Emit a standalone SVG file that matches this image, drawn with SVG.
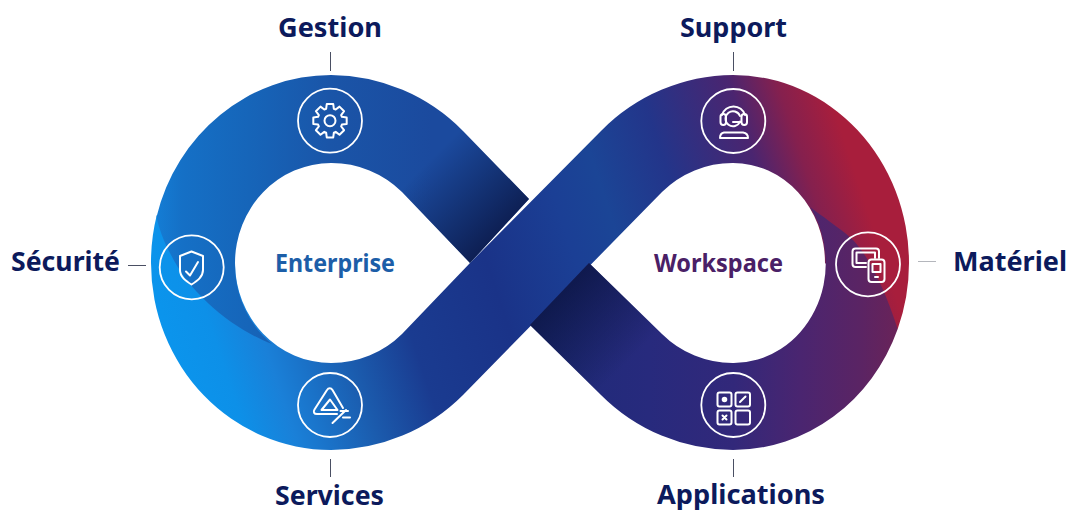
<svg xmlns="http://www.w3.org/2000/svg" width="1075" height="511" viewBox="0 0 1075 511">
<style>
.lbl{font-family:"Noto Sans","Liberation Sans",sans-serif;font-weight:700;font-size:27px;fill:#0c1a5c;text-anchor:middle}
.hub{font-family:"Noto Sans","Liberation Sans",sans-serif;font-weight:700;font-size:25px;text-anchor:middle}
.ring{fill:none;stroke:#fff;stroke-width:1.8}
.ico{fill:none;stroke:#fff;stroke-width:2;stroke-linejoin:round;stroke-linecap:round}
.lead{stroke:#4a4f63;stroke-width:1;fill:none}
</style>
<defs>
<linearGradient id="main" gradientUnits="userSpaceOnUse" x1="150" y1="340" x2="880" y2="100">
<stop offset="0" stop-color="#0a96ee"/><stop offset=".08" stop-color="#0d90e8"/><stop offset=".14" stop-color="#1a80d8"/><stop offset=".18" stop-color="#1a72c8"/><stop offset=".24" stop-color="#1b5cae"/><stop offset=".325" stop-color="#1a3b90"/><stop offset=".448" stop-color="#1a3388"/><stop offset=".558" stop-color="#1b3f95"/><stop offset=".62" stop-color="#1b4596"/><stop offset=".708" stop-color="#23358a"/><stop offset=".82" stop-color="#4a2570"/><stop offset=".88" stop-color="#85204e"/><stop offset=".94" stop-color="#a81e3c"/><stop offset="1" stop-color="#a81e3c"/>
</linearGradient>
<linearGradient id="upL" gradientUnits="userSpaceOnUse" x1="150" y1="0" x2="470" y2="0">
<stop offset="0" stop-color="#1480d8"/><stop offset=".1" stop-color="#1570c6"/><stop offset=".31" stop-color="#1665b9"/><stop offset=".56" stop-color="#1a55a8"/><stop offset=".88" stop-color="#1b4a9e"/><stop offset="1" stop-color="#1b4a9e"/>
</linearGradient>
<linearGradient id="shL" gradientUnits="userSpaceOnUse" x1="295" y1="295" x2="365" y2="365">
<stop offset="0" stop-color="#0a1440" stop-opacity="0"/><stop offset="1" stop-color="#0a1440" stop-opacity=".78"/>
</linearGradient>
<linearGradient id="loR" gradientUnits="userSpaceOnUse" x1="530" y1="0" x2="900" y2="0">
<stop offset="0" stop-color="#1d2b78"/><stop offset=".32" stop-color="#272a7d"/><stop offset=".55" stop-color="#32287a"/><stop offset=".73" stop-color="#4a2570"/><stop offset=".89" stop-color="#5a2464"/><stop offset="1" stop-color="#6a2358"/>
</linearGradient>
<linearGradient id="shR" gradientUnits="userSpaceOnUse" x1="428" y1="428" x2="495" y2="495">
<stop offset="0" stop-color="#0a1440" stop-opacity=".75"/><stop offset="1" stop-color="#0a1440" stop-opacity="0"/>
</linearGradient>
</defs>
<rect width="1075" height="511" fill="#fff"/>
<g id="ribbon">
<path fill="url(#main)" d="M156.800,215 A180,188 0 0 0 151,263 A180,187 0 0 0 331,450 A187,187 0 0 0 463,395 L662,192 A100,100 0 0 1 733,163 A92,100 0 0 1 825,263 L897.700,329 A176,187 0 0 0 909,263 A176,188 0 0 0 733,75 A187,187 0 0 0 601,131 L470,263 L402,334 A100,100 0 0 1 331,363 A96,100 0 0 1 235,263 Z"/>
<path id="upper-left" fill="url(#upL)" d="M156.500,217 A180,188 0 0 1 331,75 A187,187 0 0 1 463,131 L529,199 L470,263 L402,192 A100,100 0 0 0 331,163 A96,100 0 0 0 235,263 A96,100 0 0 0 272,344 C235,330 190,295 170,253 C163,240 159,228 156.500,217 Z"/>
<path fill="url(#shL)" d="M463,131 L529,199 L470,263 L402,192 L390,180 L440,110 Z"/>
<path id="lower-right" fill="url(#loR)" d="M530,325 L589,263 L662,334 A100,100 0 0 0 733,363 A92,100 0 0 0 810,207 C830,222 845,232 853,240 C870,258 885,290 897.700,329 A176,187 0 0 1 733,450 A187,187 0 0 1 601,395 Z"/>
<path fill="url(#shR)" d="M530,325 L589,263 L662,334 L680,352 L640,420 L601,395 Z"/>
</g>
<g id="connectors">
<path class="lead" d="M330.500,52V71M733.500,52V71M128,265.500H146M330.500,459V477M733.500,459V477"/>
<path class="lead" style="stroke:#b4b6bc" d="M918,261.500H936"/>
</g>
<g id="node-gestion">
<text class="lbl" x="330" y="37" textLength="104" lengthAdjust="spacingAndGlyphs">Gestion</text>
<circle class="ring" cx="330" cy="120.700" r="32"/>
<g class="ico" transform="translate(330 120.700)"><path d="M-3.860,-11.890L-3.240,-16.690L3.240,-16.690L3.860,-11.890L5.680,-11.140L9.510,-14.090L14.090,-9.510L11.140,-5.680L11.890,-3.860L16.690,-3.240L16.690,3.240L11.890,3.860L11.140,5.680L14.090,9.510L9.510,14.090L5.680,11.140L3.860,11.890L3.240,16.690L-3.240,16.690L-3.860,11.890L-5.680,11.140L-9.510,14.090L-14.090,9.510L-11.140,5.680L-11.890,3.860L-16.690,3.240L-16.690,-3.240L-11.890,-3.860L-11.140,-5.680L-14.090,-9.510L-9.510,-14.090L-5.680,-11.140Z"/><circle r="5.500"/></g>
</g>
<g id="node-support">
<text class="lbl" x="733.500" y="37" textLength="107" lengthAdjust="spacingAndGlyphs">Support</text>
<circle class="ring" cx="733.300" cy="121" r="32"/>
<g class="ico"><path d="M722,115 A12,12 0 0 1 745,115"/><rect x="720.500" y="114" width="5.500" height="11" rx="2.700"/><rect x="741.500" y="114" width="5.500" height="11" rx="2.700"/><path d="M740,121.500 A7.500,7.500 0 1 1 740,116 M733,122H741"/><path d="M724,132.500H743C746,133 748,135 748,138H720C720,135 721,133 724,132.500Z"/></g>
</g>
<g id="node-securite">
<text class="lbl" x="65.500" y="271" textLength="109" lengthAdjust="spacingAndGlyphs">Sécurité</text>
<circle class="ring" cx="191.700" cy="267.300" r="32"/>
<g class="ico"><path d="M191.500,251.500L203,256V270C203,277 197,281 191.500,284.500C186,281 180,277 180,270V256Z"/><path d="M186,271.500L190,275.500L198,262"/></g>
</g>
<g id="node-materiel">
<text class="lbl" x="1010" y="271" textLength="114" lengthAdjust="spacingAndGlyphs">Matériel</text>
<circle class="ring" cx="868" cy="264.300" r="32"/>
<g class="ico"><path d="M866,267H855.500C853.500,267 852.500,266 852.500,264V251.500C852.500,249.500 853.500,248.500 855.500,248.500H876C878,248.500 879,249.500 879,251.500V258"/><path d="M866,263H856.500V252.500H875V258"/><rect x="868.500" y="259.500" width="16" height="22.500" rx="3"/><rect x="872.500" y="264" width="8" height="8"/><path d="M875,277H878"/></g>
</g>
<g id="node-services">
<text class="lbl" x="329.500" y="505" textLength="109" lengthAdjust="spacingAndGlyphs">Services</text>
<circle class="ring" cx="330" cy="405" r="32"/>
<g class="ico"><path d="M337,414H317C314,414 313,412 314.500,409.500L327,390C328.500,387.500 331,387.500 332.500,390L343,408"/><path d="M330,399.500L321.500,410H337.500Z"/><path d="M332.500,423L346,410"/><path d="M340.500,411H348M343,417.500H350"/></g>
</g>
<g id="node-applications">
<text class="lbl" x="741" y="504" textLength="168" lengthAdjust="spacingAndGlyphs">Applications</text>
<circle class="ring" cx="733.300" cy="405" r="32"/>
<g class="ico"><rect x="717.500" y="392.500" width="14" height="14" rx="2"/><rect x="735.500" y="392.500" width="14.500" height="14" rx="2"/><rect x="717.500" y="410.500" width="14" height="14" rx="2"/><rect x="735.500" y="410.500" width="14.500" height="14" rx="2"/><circle cx="724.500" cy="399.500" r="1.800" fill="#fff"/><path d="M740,402L745.500,396.500"/><path d="M722.500,415.500L726.500,419.500M726.500,415.500L722.500,419.500"/></g>
</g>
<g id="node-enterprise"><text class="hub" x="335" y="272" fill="#1c5ea8" textLength="120" lengthAdjust="spacingAndGlyphs">Enterprise</text></g>
<g id="node-workspace"><text class="hub" x="718.500" y="272" fill="#4a2066" textLength="129" lengthAdjust="spacingAndGlyphs">Workspace</text></g>
</svg>
